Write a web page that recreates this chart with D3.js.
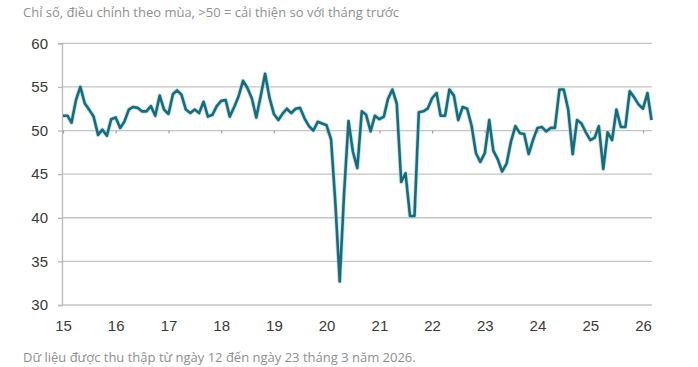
<!DOCTYPE html>
<html>
<head>
<meta charset="utf-8">
<script src="https://cdn.jsdelivr.net/npm/d3@7"></script>
<style>
  html, body { margin: 0; padding: 0; background: #fff; }
  svg { display: block; }
</style>
</head>
<body>
<svg id="chart" width="698" height="367"></svg>
<script>
// ---- Data ----
const startYear = 2015;
const yearLabels = ["15","16","17","18","19","20","21","22","23","24","25","26"];
const yTicks = [30, 35, 40, 45, 50, 55, 60];
const subtitle = "Chỉ số, điều chỉnh theo mùa, >50 = cải thiện so với tháng trước";
const footnote = "Dữ liệu được thu thập từ ngày 12 đến ngày 23 tháng 3 năm 2026.";
const pmi2015 = [51.7, 51.7, 50.9, 53.5, 55.0, 53.1, 52.4, 51.6, 49.5, 50.1, 49.4, 51.3];
const pmi2016 = [51.5, 50.3, 51.0, 52.4, 52.7, 52.6, 52.2, 52.2, 52.8, 51.7, 54.0, 52.4];
const pmi2017 = [51.9, 54.2, 54.6, 54.1, 52.4, 52.0, 52.4, 52.0, 53.3, 51.6, 51.8, 52.8];
const pmi2018 = [53.4, 53.5, 51.6, 52.7, 53.9, 55.7, 54.9, 53.7, 51.5, 53.9, 56.5, 53.8];
const pmi2019 = [51.9, 51.2, 51.9, 52.5, 52.0, 52.5, 52.6, 51.4, 50.5, 50.0, 51.0, 50.8];
const pmi2020 = [50.6, 49.0, 41.9, 32.7, 42.7, 51.1, 47.6, 45.7, 52.2, 51.8, 49.9, 51.7];
const pmi2021 = [51.3, 51.6, 53.6, 54.7, 53.1, 44.1, 45.1, 40.2, 40.2, 52.1, 52.2, 52.5];
const pmi2022 = [53.7, 54.3, 51.7, 51.7, 54.7, 54.0, 51.2, 52.7, 52.5, 50.6, 47.4, 46.4];
const pmi2023 = [47.4, 51.2, 47.7, 46.7, 45.3, 46.2, 48.7, 50.5, 49.7, 49.6, 47.3, 48.9];
const pmi2024 = [50.3, 50.4, 49.9, 50.3, 50.3, 54.7, 54.7, 52.4, 47.3, 51.2, 50.8, 49.8];
const pmi2025 = [48.9, 49.2, 50.5, 45.6, 49.8, 48.9, 52.4, 50.4, 50.4, 54.5, 53.8, 53.0];
const pmi2026 = [52.5, 54.3, 51.2];

const values = [].concat(pmi2015, pmi2016, pmi2017, pmi2018, pmi2019, pmi2020,
  pmi2021, pmi2022, pmi2023, pmi2024, pmi2025, pmi2026);
const data = values.map((v, i) => ({ date: new Date(startYear + Math.floor(i / 12), i % 12, 1), value: v }));

// ---- Layout ----
const svg = d3.select("#chart");
const axisFont = "'Liberation Sans Narrow', 'Arial Narrow', 'Liberation Sans', Arial, sans-serif";
const textFont = "'Open Sans', 'Noto Sans', sans-serif";

const x = d3.scaleTime()
  .domain([new Date(2015, 0, 1), new Date(2026, 2, 1)])
  .range([63, 651.5]);
const y = d3.scaleLinear().domain([30, 60]).range([305, 43.3]);
const gridLeft = 62, gridRight = 652;

// subtitle
svg.append("text")
  .attr("x", 23).attr("y", 17)
  .attr("font-family", textFont).attr("font-size", 13)
  .attr("fill", "#8f8f8f")
  .text(subtitle);

// gridlines
svg.append("g").selectAll("line").data(yTicks).join("line")
  .attr("x1", gridLeft).attr("x2", gridRight)
  .attr("y1", d => y(d)).attr("y2", d => y(d))
  .attr("stroke", "#c4c4c4").attr("stroke-width", 1.3);

// y axis
const yAxis = d3.axisLeft(y).tickValues(yTicks).tickSize(4).tickPadding(10).tickFormat(d3.format("d"));
const gy = svg.append("g").attr("transform", `translate(${gridLeft},0)`).call(yAxis);
gy.select(".domain").attr("stroke", "#b8b8b8").attr("stroke-width", 1.3);
gy.selectAll(".tick line").attr("stroke", "#b8b8b8").attr("stroke-width", 1.3);
gy.selectAll(".tick text").attr("font-family", axisFont).attr("font-size", 15).attr("fill", "#3a3a3a");

// x axis ticks on the 50 line
const yearDates = yearLabels.map((d, i) => new Date(startYear + i, 0, 1));
const xAxisTicks = d3.axisBottom(x).tickValues(yearDates).tickSize(3).tickFormat("");
const gxt = svg.append("g").attr("transform", `translate(0,${y(50)})`).call(xAxisTicks);
gxt.select(".domain").remove();
gxt.selectAll(".tick line").attr("stroke", "#a0a0a0").attr("stroke-width", 1.2);

// x labels at bottom
const xAxisLabels = d3.axisBottom(x).tickValues(yearDates).tickSize(0).tickPadding(15)
  .tickFormat((d, i) => yearLabels[i]);
const gxl = svg.append("g").attr("transform", `translate(0,${y(30)})`).call(xAxisLabels);
gxl.select(".domain").remove();
gxl.selectAll(".tick text").attr("font-family", axisFont).attr("font-size", 15).attr("fill", "#3a3a3a");

// line
const line = d3.line().x(d => x(d.date)).y(d => y(d.value)).curve(d3.curveLinear);
svg.append("path").datum(data)
  .attr("d", line)
  .attr("fill", "none")
  .attr("stroke", "#9fd3da").attr("stroke-width", 4.4)
  .attr("stroke-linejoin", "round").attr("opacity", 0.6);
svg.append("path").datum(data)
  .attr("d", line)
  .attr("fill", "none")
  .attr("stroke", "#1b6a7b").attr("stroke-width", 2.6)
  .attr("stroke-linejoin", "round");

// footnote
svg.append("text")
  .attr("x", 23).attr("y", 362)
  .attr("font-family", textFont).attr("font-size", 13)
  .attr("fill", "#8f8f8f")
  .text(footnote);
</script>
</body>
</html>
